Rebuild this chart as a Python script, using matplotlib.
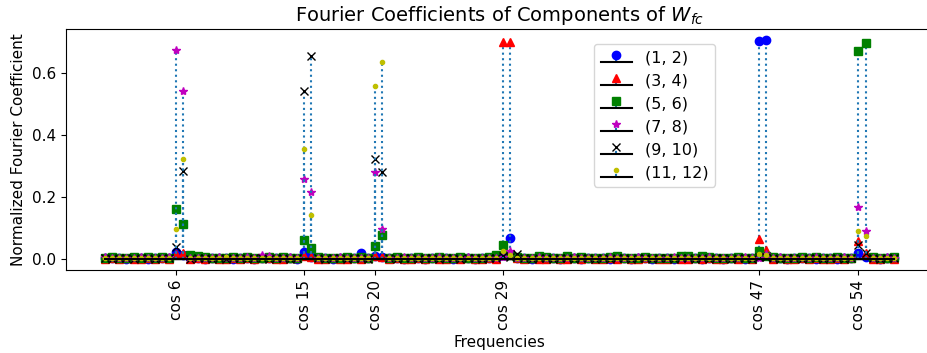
import numpy as np
import matplotlib
matplotlib.use("Agg")
import matplotlib.pyplot as plt

# Fourier basis index: cos k -> 2(k-1), sin k -> 2(k-1)+1, k = 1..56
freq_ticks = [6, 15, 20, 29, 47, 54]
tick_labels = ["cos %d" % k for k in freq_ticks]

labels = ["(1, 2)", "(3, 4)", "(5, 6)", "(7, 8)", "(9, 10)", "(11, 12)"]
markers = ["bo", "r^", "gs", "m*", "kx", "y."]

comp_1_2 = [
    0.003, 0.002, 0.004, 0.001, 0.002, 0.003, 0.001, 0.002,
    0.004, 0.003, 0.024, 0.012, 0.003, 0.002, 0.001, 0.003,
    0.002, 0.004, 0.001, 0.002, 0.003, 0.001, 0.002, 0.004,
    0.003, 0.002, 0.005, 0.001, 0.023, 0.008, 0.002, 0.003,
    0.001, 0.002, 0.004, 0.003, 0.020, 0.004, 0.009, 0.007,
    0.002, 0.003, 0.001, 0.004, 0.002, 0.001, 0.003, 0.002,
    0.004, 0.001, 0.002, 0.003, 0.001, 0.002, 0.004, 0.003,
    0.012, 0.068, 0.003, 0.002, 0.001, 0.003, 0.004, 0.002,
    0.001, 0.003, 0.002, 0.001, 0.004, 0.002, 0.003, 0.001,
    0.002, 0.004, 0.001, 0.003, 0.002, 0.001, 0.003, 0.002,
    0.001, 0.004, 0.002, 0.003, 0.001, 0.002, 0.004, 0.001,
    0.003, 0.002, 0.001, 0.004, 0.701, 0.705, 0.003, 0.002,
    0.001, 0.003, 0.002, 0.004, 0.001, 0.002, 0.003, 0.001,
    0.002, 0.004, 0.021, 0.006, 0.003, 0.001, 0.002, 0.003,
]
comp_3_4 = [
    0.001, 0.003, 0.000, 0.002, 0.001, 0.000, 0.003, 0.001,
    0.002, 0.000, 0.018, 0.020, 0.000, 0.002, 0.001, 0.003,
    0.000, 0.001, 0.002, 0.000, 0.003, 0.001, 0.004, 0.002,
    0.000, 0.001, 0.003, 0.002, 0.010, 0.008, 0.001, 0.000,
    0.002, 0.001, 0.000, 0.003, 0.001, 0.002, 0.010, 0.008,
    0.000, 0.002, 0.001, 0.000, 0.003, 0.001, 0.002, 0.000,
    0.001, 0.003, 0.000, 0.002, 0.001, 0.000, 0.002, 0.001,
    0.700, 0.700, 0.002, 0.000, 0.003, 0.001, 0.000, 0.002,
    0.001, 0.000, 0.003, 0.001, 0.002, 0.000, 0.001, 0.003,
    0.000, 0.002, 0.001, 0.000, 0.003, 0.002, 0.000, 0.001,
    0.002, 0.000, 0.001, 0.003, 0.000, 0.002, 0.001, 0.000,
    0.002, 0.001, 0.003, 0.000, 0.065, 0.030, 0.001, 0.002,
    0.000, 0.001, 0.003, 0.000, 0.002, 0.001, 0.000, 0.003,
    0.001, 0.002, 0.057, 0.020, 0.000, 0.001, 0.002, 0.000,
]
comp_5_6 = [
    0.004, 0.006, 0.003, 0.005, 0.007, 0.004, 0.006, 0.003,
    0.008, 0.005, 0.161, 0.113, 0.012, 0.010, 0.006, 0.004,
    0.005, 0.003, 0.006, 0.004, 0.008, 0.005, 0.003, 0.006,
    0.004, 0.007, 0.005, 0.003, 0.060, 0.037, 0.006, 0.004,
    0.003, 0.005, 0.008, 0.004, 0.006, 0.005, 0.042, 0.078,
    0.004, 0.006, 0.003, 0.005, 0.007, 0.004, 0.003, 0.006,
    0.005, 0.004, 0.006, 0.003, 0.005, 0.004, 0.006, 0.012,
    0.046, 0.012, 0.008, 0.005, 0.004, 0.011, 0.006, 0.003,
    0.004, 0.010, 0.005, 0.006, 0.003, 0.004, 0.005, 0.006,
    0.009, 0.004, 0.003, 0.005, 0.006, 0.004, 0.003, 0.005,
    0.004, 0.011, 0.009, 0.004, 0.010, 0.006, 0.003, 0.005,
    0.004, 0.006, 0.003, 0.005, 0.027, 0.010, 0.006, 0.004,
    0.005, 0.003, 0.006, 0.004, 0.008, 0.005, 0.003, 0.006,
    0.004, 0.005, 0.670, 0.697, 0.006, 0.004, 0.005, 0.007,
]
comp_7_8 = [
    0.006, 0.003, 0.005, 0.004, 0.002, 0.006, 0.003, 0.005,
    0.004, 0.006, 0.675, 0.543, 0.003, 0.005, 0.004, 0.002,
    0.006, 0.003, 0.005, 0.004, 0.006, 0.003, 0.012, 0.011,
    0.004, 0.002, 0.006, 0.005, 0.257, 0.217, 0.003, 0.005,
    0.004, 0.006, 0.002, 0.005, 0.003, 0.004, 0.279, 0.096,
    0.005, 0.003, 0.006, 0.004, 0.002, 0.005, 0.003, 0.006,
    0.004, 0.005, 0.003, 0.006, 0.002, 0.004, 0.005, 0.003,
    0.006, 0.027, 0.004, 0.005, 0.003, 0.006, 0.002, 0.004,
    0.005, 0.003, 0.006, 0.004, 0.005, 0.002, 0.003, 0.006,
    0.004, 0.005, 0.003, 0.006, 0.002, 0.004, 0.005, 0.003,
    0.006, 0.004, 0.002, 0.005, 0.003, 0.006, 0.004, 0.005,
    0.003, 0.002, 0.006, 0.004, 0.005, 0.015, 0.003, 0.006,
    0.004, 0.005, 0.002, 0.003, 0.006, 0.004, 0.005, 0.003,
    0.006, 0.004, 0.169, 0.091, 0.005, 0.003, 0.006, 0.004,
]
comp_9_10 = [
    0.002, 0.001, 0.003, 0.002, 0.001, 0.002, 0.003, 0.001,
    0.002, 0.003, 0.040, 0.284, 0.001, 0.002, 0.003, 0.001,
    0.002, 0.001, 0.003, 0.002, 0.001, 0.003, 0.002, 0.001,
    0.003, 0.002, 0.001, 0.002, 0.543, 0.655, 0.003, 0.001,
    0.002, 0.003, 0.001, 0.002, 0.003, 0.001, 0.323, 0.281,
    0.002, 0.001, 0.003, 0.002, 0.001, 0.003, 0.002, 0.001,
    0.003, 0.002, 0.001, 0.002, 0.003, 0.001, 0.002, 0.003,
    0.010, 0.006, 0.015, 0.002, 0.001, 0.003, 0.002, 0.001,
    0.002, 0.003, 0.001, 0.002, 0.003, 0.001, 0.002, 0.001,
    0.003, 0.002, 0.001, 0.003, 0.002, 0.001, 0.002, 0.003,
    0.001, 0.002, 0.003, 0.001, 0.002, 0.001, 0.003, 0.002,
    0.001, 0.003, 0.002, 0.001, 0.008, 0.006, 0.002, 0.001,
    0.003, 0.002, 0.001, 0.002, 0.003, 0.001, 0.002, 0.003,
    0.001, 0.002, 0.046, 0.020, 0.003, 0.001, 0.002, 0.003,
]
comp_11_12 = [
    0.004, 0.003, 0.005, 0.004, 0.003, 0.005, 0.004, 0.003,
    0.005, 0.004, 0.097, 0.324, 0.003, 0.005, 0.004, 0.003,
    0.005, 0.007, 0.004, 0.003, 0.005, 0.004, 0.003, 0.005,
    0.004, 0.003, 0.005, 0.004, 0.356, 0.141, 0.003, 0.005,
    0.004, 0.003, 0.005, 0.004, 0.003, 0.005, 0.557, 0.636,
    0.004, 0.003, 0.005, 0.004, 0.003, 0.005, 0.004, 0.003,
    0.005, 0.004, 0.003, 0.005, 0.004, 0.003, 0.005, 0.004,
    0.027, 0.012, 0.005, 0.004, 0.003, 0.005, 0.004, 0.003,
    0.005, 0.004, 0.003, 0.005, 0.004, 0.003, 0.005, 0.004,
    0.003, 0.005, 0.004, 0.003, 0.005, 0.004, 0.003, 0.005,
    0.004, 0.003, 0.005, 0.004, 0.003, 0.005, 0.004, 0.003,
    0.005, 0.004, 0.003, 0.005, 0.015, 0.013, 0.004, 0.003,
    0.005, 0.004, 0.003, 0.005, 0.004, 0.003, 0.005, 0.004,
    0.003, 0.005, 0.089, 0.075, 0.004, 0.003, 0.005, 0.004,
]

series = [comp_1_2, comp_3_4, comp_5_6, comp_7_8, comp_9_10, comp_11_12]
x = np.arange(len(comp_1_2))

fig = plt.figure(figsize=(9.27, 3.53), dpi=100)
ax = fig.add_axes([0.0709, 0.235, 0.936, 0.682])

for vals, mfmt, lab in zip(series, markers, labels):
    ax.stem(x, vals, linefmt=":", markerfmt=mfmt, basefmt="k-", label=lab)

ax.set_xticks([2 * (k - 1) for k in freq_ticks])
ax.set_xticklabels(tick_labels, rotation=90, fontsize=11)
ax.tick_params(axis="y", labelsize=11)
ax.set_xlabel("Frequencies", fontsize=11)
ax.set_ylabel("Normalized Fourier Coefficient", fontsize=11)
ax.set_title("Fourier Coefficients of Components of $W_{fc}$", fontsize=14)
ax.legend(loc="upper left", bbox_to_anchor=(0.609, 0.939), borderaxespad=0, fontsize=11.5)

fig.savefig("out.png", dpi=100)
